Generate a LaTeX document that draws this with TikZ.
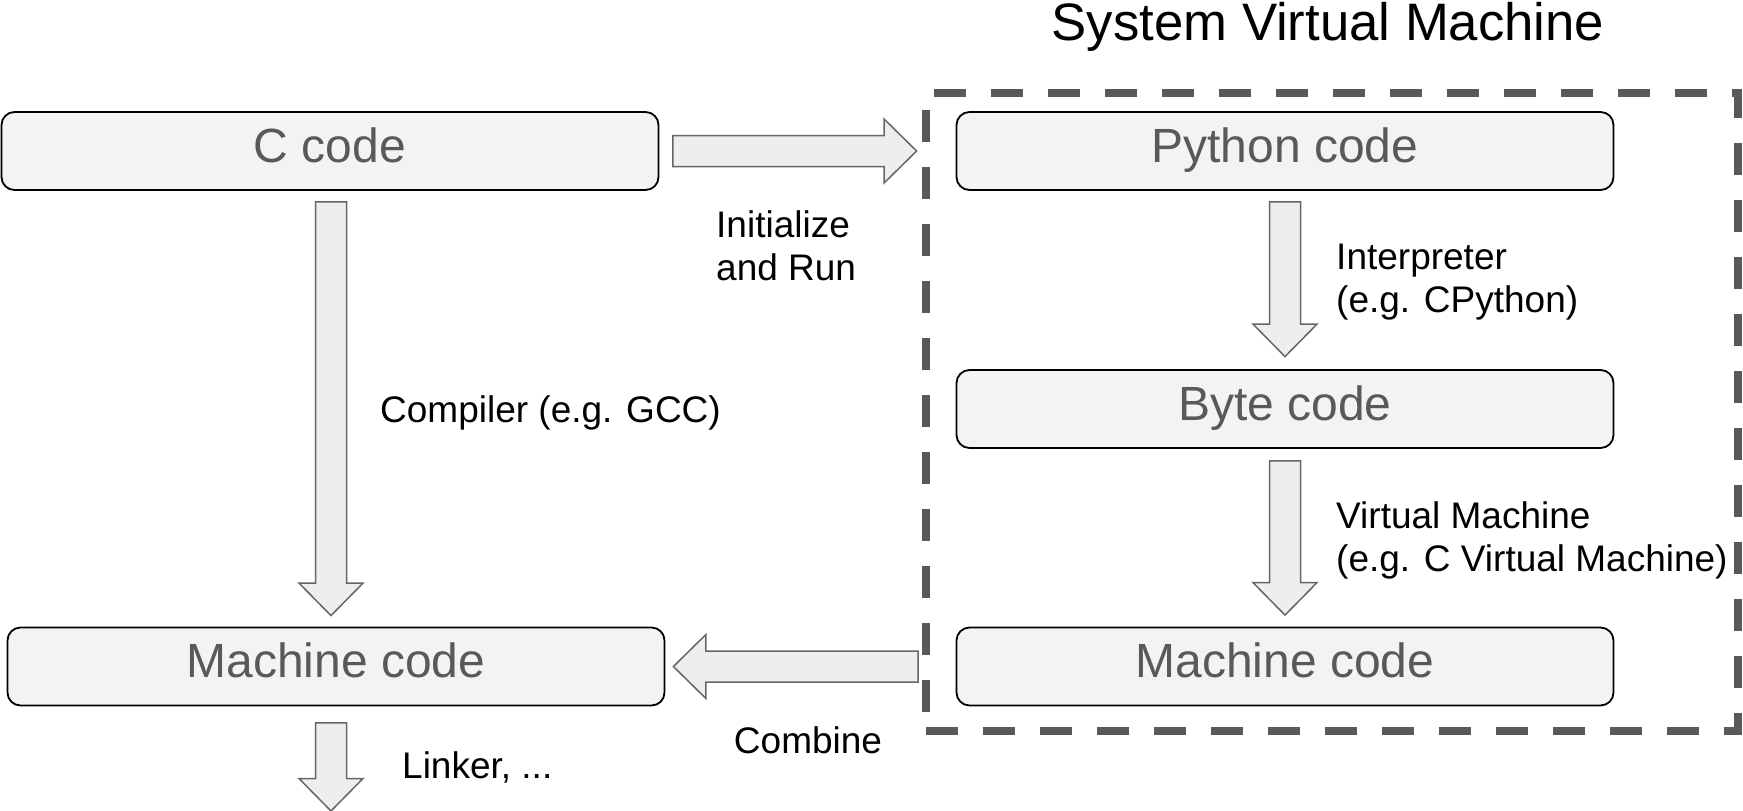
\documentclass[tikz,border=0pt]{standalone}
\usepackage{fontspec}
\setmainfont{Liberation Sans}
\usetikzlibrary{calc}
\definecolor{boxfill}{HTML}{F3F3F3}
\definecolor{boxtext}{HTML}{595959}
\definecolor{arrfill}{HTML}{EEEEEE}
\definecolor{arrline}{HTML}{666666}
\definecolor{dashc}{HTML}{595959}

\newcommand{\blockarrow}[2]{%
  \path (#1); \pgfgetlastxy{\baXa}{\baYa}%
  \path (#2); \pgfgetlastxy{\baXb}{\baYb}%
  \pgfmathsetmacro\baAng{atan2(\baYb-\baYa,\baXb-\baXa)}%
  \pgfmathsetmacro\baLen{veclen(\baXb-\baXa,\baYb-\baYa)}%
  \draw[blockarr, shift={(\baXa,\baYa)}, rotate=\baAng]
    (0pt,-15.5pt) -- ({\baLen pt-32.5pt},-15.5pt) -- ({\baLen pt-32.5pt},-32pt)
    -- ({\baLen pt},0pt) -- ({\baLen pt-32.5pt},32pt) -- ({\baLen pt-32.5pt},15.5pt)
    -- (0pt,15.5pt) -- cycle;
}

\tikzset{
  cbox/.style={draw=black, line width=1.8pt, fill=boxfill, rounded corners=13pt,
    minimum width=657pt, minimum height=78pt, inner sep=0pt,
    text=boxtext, font=\fontsize{48}{58}\selectfont,
    text height=34.4pt, text depth=12.4pt},
  blockarr/.style={draw=arrline, line width=1.5pt, fill=arrfill, line join=miter},
  lbl/.style={inner sep=0pt, text=black, font=\fontsize{37}{43}\selectfont},
  dashbox/.style={draw=dashc, line width=8pt, dash pattern=on 32pt off 25pt,
    minimum width=812pt, minimum height=638.5pt, inner sep=0pt},
  ttl/.style={inner sep=0pt, text=black, font=\fontsize{52.7}{60}\selectfont}
}

\begin{document}
\begin{tikzpicture}[x=1pt,y=-1pt]
\useasboundingbox (0,0) rectangle (1743,811);

% title and dashed frame
\node[ttl, anchor=base] (title) at (1328,40) {System Virtual Machine};
\node[dashbox] (vm) at (1332,411.75) {};

% boxes
\node[cbox] (ccode) at (330,151) {C code};
\node[cbox] (py) at (1285,151) {Python code};
\node[cbox] (byte) at (1285,409) {Byte code};
\node[cbox] (mcr) at (1285,666.5) {Machine code};
\node[cbox] (mcl) at (336,666.5) {Machine code};

% connector end points
\coordinate (c1s) at ($(ccode.south)+(1,11)$);
\coordinate (c1e) at ($(c1s |- mcl.north)+(0,-11)$);
\coordinate (c2s) at ($(mcl.south)+(-5,16.5)$);
\coordinate (c2e) at (c2s |- 0,811);
\coordinate (p1s) at ($(py.south)+(0,11)$);
\coordinate (p1e) at ($(byte.north)+(0,-12.5)$);
\coordinate (b1s) at ($(byte.south)+(0,12)$);
\coordinate (b1e) at ($(mcr.north)+(0,-11.5)$);
\coordinate (i1s) at ($(ccode.east)+(13.5,0)$);
\coordinate (i1e) at ($(py.west)+(-39,0)$);
\coordinate (m1s) at ($(mcr.west)+(-37.5,0)$);
\coordinate (m1e) at ($(mcl.east)+(8,0)$);

% block arrows
\blockarrow{c1s}{c1e}
\blockarrow{c2s}{c2e}
\blockarrow{p1s}{p1e}
\blockarrow{b1s}{b1e}
\blockarrow{i1s}{i1e}
\blockarrow{m1s}{m1e}

% labels
\node[lbl, anchor=base west] (linit) at (716,237)
  {\begin{tabular}[t]{@{}l@{}}Initialize\\and Run\end{tabular}};
\node[lbl, anchor=base west] (lcomp) at (380,422) {Compiler (e.g. GCC)};
\node[lbl, anchor=base west] (linterp) at (1336,269)
  {\begin{tabular}[t]{@{}l@{}}Interpreter\\(e.g. CPython)\end{tabular}};
\node[lbl, anchor=base west] (lvm) at (1336,528)
  {\begin{tabular}[t]{@{}l@{}}Virtual Machine\\(e.g. C Virtual Machine)\end{tabular}};
\node[lbl, anchor=base] (lcomb) at (808,753) {Combine};
\node[lbl, anchor=base west] (llink) at (402,778) {Linker, ...};
\end{tikzpicture}
\end{document}
